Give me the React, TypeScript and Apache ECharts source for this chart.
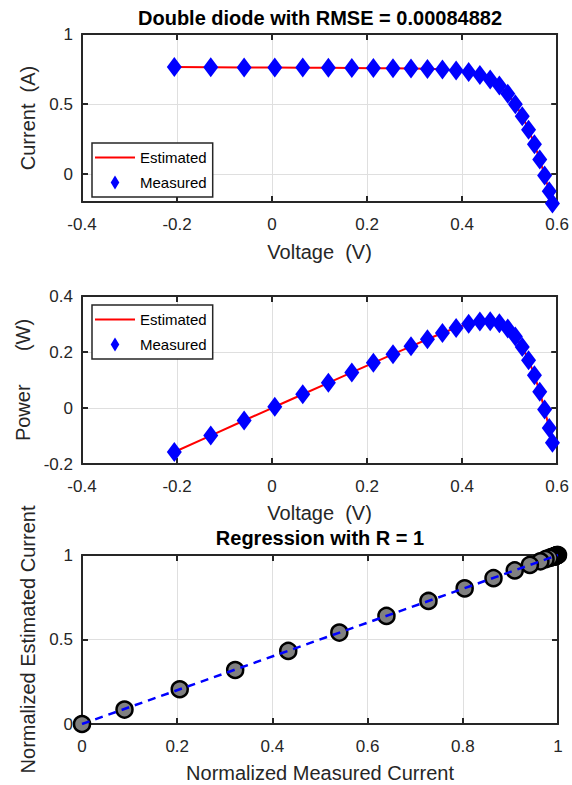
import React, { useEffect, useRef } from "react";
import * as echarts from "echarts";

// RTC France cell data: measured voltage / current
const voltage = [
  -0.2057, -0.1291, -0.0588, 0.0057, 0.0646, 0.1185, 0.1678, 0.2132, 0.2545,
  0.2924, 0.3269, 0.3585, 0.3873, 0.4137, 0.4373, 0.459, 0.4784, 0.496, 0.5119,
  0.5265, 0.5398, 0.5521, 0.5633, 0.5736, 0.5833, 0.59,
];
const currentMeasured = [
  0.764, 0.762, 0.7605, 0.7605, 0.76, 0.759, 0.757, 0.757, 0.7555, 0.754,
  0.7505, 0.7465, 0.7385, 0.728, 0.7065, 0.6755, 0.632, 0.573, 0.499, 0.413,
  0.3165, 0.212, 0.1035, -0.01, -0.123, -0.21,
];
const currentEstimated = [
  0.764, 0.7627, 0.7614, 0.7602, 0.7591, 0.7581, 0.7571, 0.7561, 0.7551,
  0.7537, 0.7514, 0.7474, 0.7401, 0.7274, 0.707, 0.6753, 0.6307, 0.5719,
  0.4996, 0.4136, 0.3175, 0.2122, 0.1023, -0.0087, -0.1255, -0.2085,
];
const powerMeasured = [
  -0.15715, -0.09837, -0.04472, 0.00433, 0.0491, 0.08994, 0.12702, 0.16139,
  0.19227, 0.22047, 0.24534, 0.26762, 0.28602, 0.30117, 0.30895, 0.31005,
  0.30235, 0.28421, 0.25544, 0.21744, 0.17085, 0.11705, 0.0583, -0.00574,
  -0.07175, -0.1239,
];
const powerEstimated = [
  -0.15715, -0.09846, -0.04477, 0.00433, 0.04904, 0.08983, 0.12704, 0.1612,
  0.19217, 0.22038, 0.24563, 0.26794, 0.28664, 0.30093, 0.30917, 0.30996,
  0.30173, 0.28366, 0.25575, 0.21776, 0.17139, 0.11716, 0.05763, -0.00499,
  -0.0732, -0.12302,
];
const normMeasured = [
  1.0, 0.9979, 0.9964, 0.9964, 0.9959, 0.9949, 0.9928, 0.9928, 0.9913, 0.9897,
  0.9861, 0.982, 0.9738, 0.963, 0.9409, 0.9091, 0.8645, 0.8039, 0.7279, 0.6396,
  0.5406, 0.4333, 0.3218, 0.2053, 0.0893, 0.0,
];
const normEstimated = [
  1.0, 0.9987, 0.9973, 0.9961, 0.995, 0.9939, 0.9929, 0.9919, 0.9909, 0.9894,
  0.9871, 0.983, 0.9755, 0.9624, 0.9414, 0.9088, 0.8629, 0.8025, 0.7281,
  0.6397, 0.5409, 0.4326, 0.3196, 0.2055, 0.0854, 0.0,
];
const regLineX = [0, 1];
const regLineY = [0, 1];
const currentTickValues = [0, 0.5, 1];
const regYTickValues = [0, 0.5, 1];

const FONT = "'Liberation Sans', Arial, Helvetica, sans-serif";
const AX = "#262626";

const fmt = (v: number) => `${+Number(v).toFixed(2)}`;

function makeXAxes(grid: number, min: number, max: number, interval: number, name: string, nameGap: number) {
  const common = {
    type: "value",
    gridIndex: grid,
    min,
    max,
    interval,
    axisLine: { show: true, onZero: false, lineStyle: { color: AX, width: 2 } },
    axisTick: { show: true, inside: true, length: 6, lineStyle: { color: AX, width: 2 } },
  };
  return [
    {
      ...common,
      position: "bottom",
      name,
      nameLocation: "middle",
      nameGap,
      nameTextStyle: { fontSize: 20, color: AX, fontFamily: FONT },
      axisLabel: { show: true, margin: 14, fontSize: 17, color: AX, fontFamily: FONT, formatter: fmt },
      splitLine: { show: true, lineStyle: { color: "#dfdfdf", width: 1 } },
    },
    {
      ...common,
      position: "top",
      axisLabel: { show: false },
      splitLine: { show: false },
    },
  ];
}

function makeYAxes(
  grid: number,
  min: number,
  max: number,
  interval: number | undefined,
  custom: number[] | undefined,
  name: string,
  nameGap: number
) {
  const tick: any = { show: true, inside: true, length: 6, lineStyle: { color: AX, width: 2 } };
  const label: any = { show: true, margin: 9, fontSize: 17, color: AX, fontFamily: FONT, formatter: fmt };
  if (custom) {
    tick.customValues = custom;
    label.customValues = custom;
  }
  const common: any = {
    type: "value",
    gridIndex: grid,
    min,
    max,
    axisLine: { show: true, onZero: false, lineStyle: { color: AX, width: 2 } },
    axisTick: tick,
  };
  if (interval !== undefined) common.interval = interval;
  return [
    {
      ...common,
      position: "left",
      name,
      nameLocation: "middle",
      nameGap,
      nameTextStyle: { fontSize: 20, color: AX, fontFamily: FONT },
      axisLabel: label,
      splitLine: { show: true, lineStyle: { color: "#dfdfdf", width: 1 } },
    },
    {
      ...common,
      position: "right",
      axisLabel: { show: false },
      splitLine: { show: false },
    },
  ];
}

const legendBase = {
  orient: "vertical",
  left: 92,
  itemWidth: 40,
  itemHeight: 14,
  itemGap: 10,
  padding: [7, 6, 7, 3],
  borderColor: AX,
  borderWidth: 1.5,
  borderRadius: 0,
  backgroundColor: "#ffffff",
  selectedMode: false,
  textStyle: { fontSize: 15, color: "#000", fontFamily: FONT },
  data: [
    { name: "Estimated", icon: "path://M0,0H40V2.2H0Z", itemStyle: { color: "#ff0000" } },
    { name: "Measured", icon: "path://M0,-13L8,0L0,13L-8,0Z", itemStyle: { color: "#0000ff", opacity: 1 } },
  ],
};

export default function App() {
  const ref = useRef<HTMLDivElement>(null);
  useEffect(() => {
    if (!ref.current) return;
    const chart = echarts.init(ref.current, undefined, { renderer: "svg" });
    const xAxis = [
      ...makeXAxes(0, -0.4, 0.6, 0.2, "Voltage  (V)", 40),
      ...makeXAxes(1, -0.4, 0.6, 0.2, "Voltage  (V)", 39),
      ...makeXAxes(2, 0, 1, 0.2, "Normalized Measured Current", 39),
    ];
    const yAxis = [
      ...makeYAxes(0, -0.2, 1, undefined, currentTickValues, "Current  (A)", 37),
      ...makeYAxes(1, -0.2, 0.4, 0.2, undefined, "Power      (W)", 44),
      ...makeYAxes(2, 0, 1, undefined, regYTickValues, "Normalized Estimated Current", 40),
    ];
    const option: any = {
      animation: false,
      backgroundColor: "#ffffff",
      textStyle: { fontFamily: FONT },
      grid: [
        { left: 82, top: 34, width: 476, height: 168 },
        { left: 82, top: 296, width: 476, height: 168 },
        { left: 82, top: 555, width: 476, height: 169 },
      ],
      xAxis,
      yAxis,
      legend: [
        { ...legendBase, top: 143 },
        { ...legendBase, top: 305 },
      ],
      graphic: [
        {
          type: "text",
          x: 320,
          y: 18,
          style: {
            text: "Double diode with RMSE = 0.00084882",
            fontSize: 20,
            fontWeight: "bold",
            fontFamily: FONT,
            fill: "#000",
            align: "center",
            verticalAlign: "middle",
          },
        },
        {
          type: "text",
          x: 320,
          y: 538,
          style: {
            text: "Regression with R = 1",
            fontSize: 20,
            fontWeight: "bold",
            fontFamily: FONT,
            fill: "#000",
            align: "center",
            verticalAlign: "middle",
          },
        },
      ],
      series: [
        {
          name: "Estimated",
          type: "line",
          xAxisIndex: 0,
          yAxisIndex: 0,
          data: voltage.map((v, i) => [v, currentEstimated[i]]),
          symbol: "none",
          lineStyle: { color: "#ff0000", width: 2 },
          itemStyle: { color: "#ff0000" },
          z: 2,
        },
        {
          name: "Measured",
          type: "scatter",
          xAxisIndex: 0,
          yAxisIndex: 0,
          data: voltage.map((v, i) => [v, currentMeasured[i]]),
          symbol: "diamond",
          symbolSize: [15, 20],
          itemStyle: { color: "#0000ff", opacity: 1 },
          clip: false,
          z: 3,
        },
        {
          name: "Estimated",
          type: "line",
          xAxisIndex: 2,
          yAxisIndex: 2,
          data: voltage.map((v, i) => [v, powerEstimated[i]]),
          symbol: "none",
          lineStyle: { color: "#ff0000", width: 2 },
          itemStyle: { color: "#ff0000" },
          z: 2,
        },
        {
          name: "Measured",
          type: "scatter",
          xAxisIndex: 2,
          yAxisIndex: 2,
          data: voltage.map((v, i) => [v, powerMeasured[i]]),
          symbol: "diamond",
          symbolSize: [15, 20],
          itemStyle: { color: "#0000ff", opacity: 1 },
          clip: false,
          z: 3,
        },
        {
          name: "Regression points",
          type: "scatter",
          xAxisIndex: 4,
          yAxisIndex: 4,
          data: normMeasured.map((v, i) => [v, normEstimated[i]]),
          symbol: "circle",
          symbolSize: 16,
          itemStyle: { color: "#808080", borderColor: "#000", borderWidth: 2.5, opacity: 1 },
          clip: false,
          z: 2,
        },
        {
          name: "Fit",
          type: "line",
          xAxisIndex: 4,
          yAxisIndex: 4,
          data: regLineX.map((v, i) => [v, regLineY[i]]),
          symbol: "none",
          lineStyle: { color: "#0000ff", width: 2.5, type: [8, 6] },
          z: 3,
        },
      ],
    };
    chart.setOption(option);
    return () => chart.dispose();
  }, []);
  return (
    <div
      ref={ref}
      style={{ position: "fixed", left: 0, top: 0, width: 572, height: 785, background: "#fff" }}
    />
  );
}
